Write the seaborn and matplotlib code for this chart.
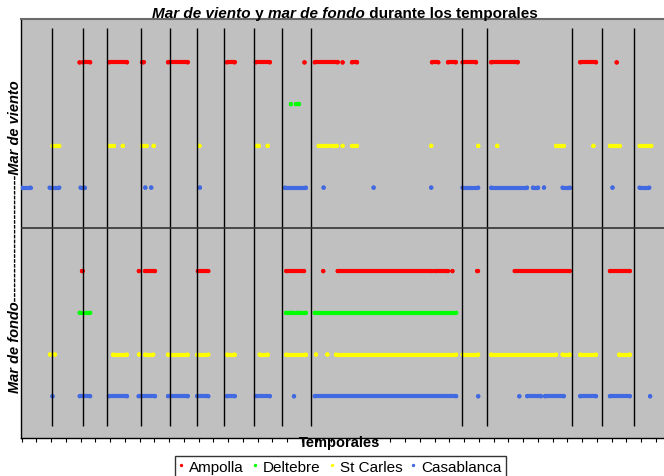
import matplotlib
matplotlib.use("Agg")
import matplotlib.pyplot as plt
import seaborn as sns
import pandas as pd
import numpy as np
from matplotlib.lines import Line2D

# ---------------- data (x = time index along the storms axis) ----------------
stations = ["Ampolla", "Deltebre", "St Carles", "Casablanca"]
colors = ["#FF0000", "#00FF00", "#FFFF00", "#4169E1"]

# level of each station row (viento rows on top, fondo rows below)
levels_viento = [9, 8, 7, 6]
levels_fondo = [4, 3, 2, 1]

# storm boundaries
temporal_bounds = [51.7, 82.6, 107.2, 140.6, 169.8, 196.5, 223.6, 253.7, 281.7,
                   311.3, 461.7, 487.1, 571.8, 602.3, 633.6]

# intervals (start, end) with occurrences; start == end is a single point
ampolla_viento = [(79.6, 79.6), (83, 90.2), (108.9, 127), (142, 143.5), (168.1, 187.6),
                  (227, 234.6), (255.8, 269.8), (304.5, 304.5), (314.7, 337.6),
                  (342.6, 342.6), (352, 357), (432, 438.4), (448, 455.7), (462.5, 476),
                  (491.3, 517.6), (580.3, 596), (616.7, 616.7)]
deltebre_viento = [(291, 291), (296, 299)]
stcarles_viento = [(52.5, 59.3), (108.9, 113.9), (122.8, 122.8), (141.9, 146.5),
                   (153.7, 153.7), (199.5, 199.5), (257, 258.8), (267.7, 267.7),
                   (318.5, 328.2), (331.6, 336.7), (342.6, 342.6), (352, 357),
                   (431.2, 431.2), (478.2, 478.2), (497.2, 497.2), (556.1, 563.7),
                   (593.4, 593.4), (610, 619.6), (639.5, 651.4)]
casablanca_viento = [(21.5, 30.5), (49.6, 59.3), (80.5, 84.7), (145.3, 145.3),
                     (151.2, 151.2), (199.9, 199.9), (285, 305.8), (323.6, 323.6),
                     (373.6, 373.6), (431.2, 431.2), (462.5, 478.2), (491.3, 527),
                     (533, 538), (544, 544), (562.5, 569.7), (612.5, 612.5),
                     (639.5, 649.3)]

ampolla_fondo = [(82, 82.5), (138.9, 138.9), (144.9, 155), (197.8, 208.4),
                 (286.3, 304.1), (323.2, 323.2), (337.6, 432), (435, 448),
                 (452.4, 452.4), (477.3, 478), (514.6, 569.7), (609.9, 629.8)]
deltebre_fondo = [(79.6, 90.2), (286, 290), (292, 297), (299, 305.8), (314.7, 456.2)]
stcarles_fondo = [(50, 50), (55, 55), (113, 127), (139, 139), (145.3, 153.3),
                  (168, 187.6), (197.4, 208.4), (227, 234.6), (259.6, 267.7),
                  (286.3, 305.8), (316, 316), (327.4, 327.4), (335.9, 456.2),
                  (462.5, 478.2), (491.3, 556.1), (562.5, 569.7), (580.3, 596),
                  (619.2, 629.8)]
casablanca_fondo = [(52.5, 52.5), (79.6, 90.2), (108.9, 127), (138.5, 155),
                    (168, 187.6), (197.4, 208.4), (227, 234.6), (255.8, 269.8),
                    (294, 294), (314.7, 456.2), (478.2, 478.2), (519.3, 519.3),
                    (527.3, 540.9), (545, 563.7), (580.3, 596), (609.9, 629.8),
                    (650.1, 650.1)]

viento = [ampolla_viento, deltebre_viento, stcarles_viento, casablanca_viento]
fondo = [ampolla_fondo, deltebre_fondo, stcarles_fondo, casablanca_fondo]

# ---------------- build table ----------------
rows = []
for name, lv, lf, iv, ifo in zip(stations, levels_viento, levels_fondo, viento, fondo):
    for lev, ints in ((lv, iv), (lf, ifo)):
        for s, e in ints:
            rows.append(dict(station=name, level=lev, start=s, end=e))
df = pd.DataFrame(rows)
pts = pd.concat([df.assign(x=df["start"]), df.assign(x=df["end"])], ignore_index=True)

# ---------------- figure ----------------
sns.set_theme(style="white")
plt.rcParams["font.family"] = ["Liberation Sans", "DejaVu Sans"]
plt.rcParams["text.color"] = "black"

W, H = 664, 477
fig = plt.figure(figsize=(W / 100, H / 100), dpi=100)
ax = fig.add_axes([21 / W, (H - 439) / H, 643 / W, 419 / H])
ax.set_facecolor("#C0C0C0")
ax.set_xlim(21, 664)
ax.set_ylim(0, 10.04)

palette = dict(zip(stations, colors))
lw_pts = 3.0
for name in stations:
    sub = df[(df.station == name) & (df.end > df.start)]
    ax.hlines(sub.level, sub.start, sub.end, colors=palette[name], lw=lw_pts,
              capstyle="round", zorder=3)
sns.scatterplot(data=pts, x="x", y="level", hue="station", palette=palette,
                s=9.5, linewidth=0, ax=ax, legend=False, zorder=4)

for xb in temporal_bounds:
    ax.vlines(xb, 0.29, 9.82, colors="black", lw=1.0, zorder=5)
ax.axhline(5.03, color="#333333", lw=1.2, zorder=5)

# spines / ticks
for side in ("left", "bottom"):
    ax.spines[side].set_color("black")
    ax.spines[side].set_linewidth(1.0)
ax.spines["top"].set_color("#6a6a6a")
ax.spines["top"].set_linewidth(1.5)
ax.spines["right"].set_visible(False)
ax.set_yticks([])
ax.set_xticks(np.arange(21.7, 664, 14.75))
ax.set_xticklabels([])
ax.tick_params(axis="x", direction="out", length=3, width=0.8, color="black",
               bottom=True, pad=0)
ax.set_xlabel("")
ax.set_ylabel("")

fig.text(340 / W, 1 - 443 / H, "Temporales", ha="center", va="center",
         fontsize=10.5, fontweight="bold", color="black")

fig.text(15 / W, 1 - 237 / H, "Mar de fondo" + "-" * 26 + "Mar de viento",
         rotation=90, ha="center", va="center", fontsize=10.5,
         fontweight="bold", fontstyle="italic", color="black")

# title with mixed styles
pieces = [("Mar de viento", "italic"), (" y ", "normal"), ("mar de fondo", "italic"),
          (" durante los temporales", "normal")]
texts = []
for txt, st in pieces:
    t = fig.text(0, 1 - 18.3 / H, txt, fontsize=11, fontweight="bold",
                 fontstyle=st, ha="left", va="baseline", color="black")
    texts.append(t)
fig.canvas.draw()
r = fig.canvas.get_renderer()
widths = [t.get_window_extent(r).width for t in texts]
total = sum(widths)
x = 345 - total / 2
for t, w in zip(texts, widths):
    t.set_position((x / W, 1 - 18.3 / H))
    x += w

handles = [Line2D([], [], marker="o", linestyle="", markersize=2.4,
                  markerfacecolor=c, markeredgewidth=0, color=c) for c in colors]
leg = fig.legend(handles, stations, loc="upper center",
                 bbox_to_anchor=(340 / W, 1 - 457 / H), ncol=4, fontsize=11,
                 frameon=True, fancybox=False, edgecolor="black",
                 handlelength=0.35, handletextpad=0.35, columnspacing=0.55,
                 borderpad=0.25, borderaxespad=0)
leg.get_frame().set_linewidth(1.0)
for t in leg.get_texts():
    t.set_color("black")

fig.savefig("out.png", dpi=100)
